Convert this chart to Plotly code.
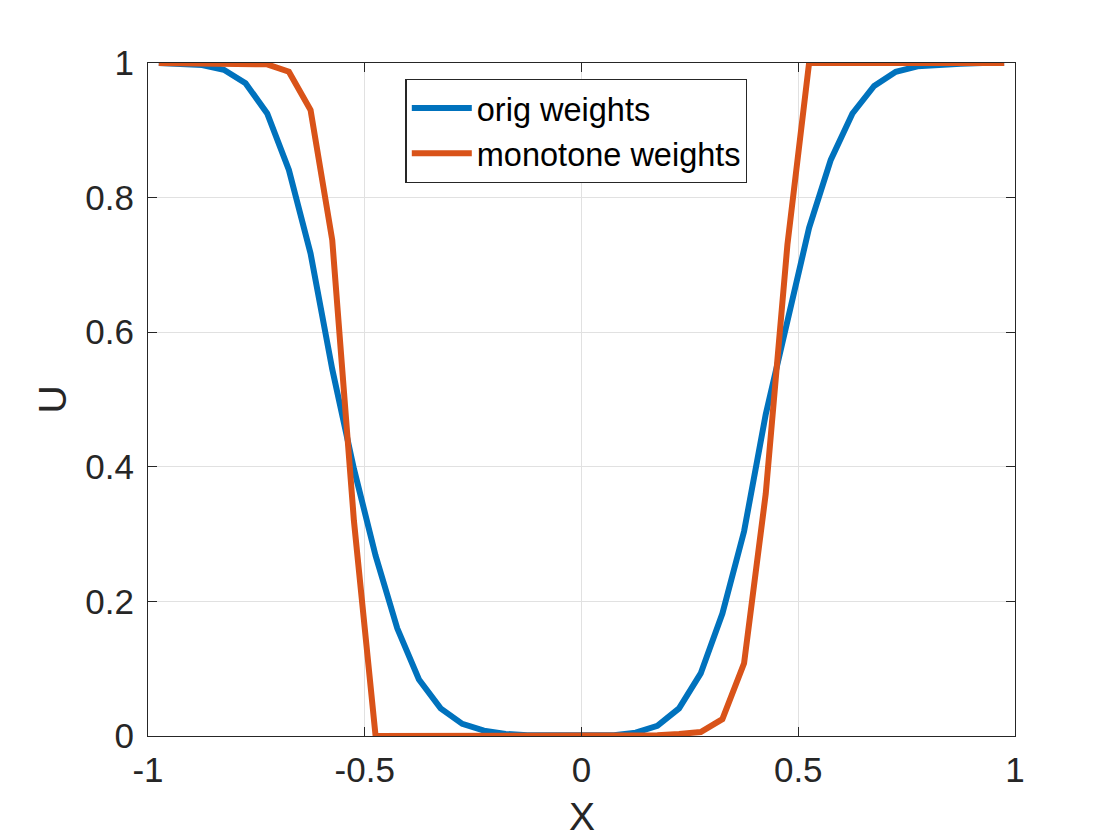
import plotly.graph_objects as go

# grid points (cell centres)
x_pts = [-0.975, -0.925, -0.875, -0.825, -0.775, -0.725, -0.675, -0.625, -0.575, -0.525,
         -0.475, -0.425, -0.375, -0.325, -0.275, -0.225, -0.175, -0.125, -0.075, -0.025,
         0.025, 0.075, 0.125, 0.175, 0.225, 0.275, 0.325, 0.375, 0.425, 0.475,
         0.525, 0.575, 0.625, 0.675, 0.725, 0.775, 0.825, 0.875, 0.925, 0.975]

u_orig = [1.000, 0.999, 0.997, 0.990, 0.970, 0.925, 0.841, 0.717, 0.545, 0.397,
          0.268, 0.160, 0.084, 0.041, 0.018, 0.008, 0.003, 0.001, 0.0005, 0.0002,
          0.0003, 0.001, 0.005, 0.015, 0.041, 0.093, 0.182, 0.304, 0.478, 0.620,
          0.755, 0.856, 0.925, 0.966, 0.987, 0.995, 0.998, 0.999, 1.000, 1.000]

u_mono = [1.000, 1.000, 1.000, 1.000, 1.000, 0.998, 0.987, 0.930, 0.737, 0.320,
          0.0, 0.0, 0.0, 0.0, 0.0, 0.0, 0.0, 0.0, 0.0, 0.0,
          0.0, 0.0, 0.0, 0.001, 0.003, 0.006, 0.025, 0.108, 0.360, 0.730,
          1.000, 1.000, 1.000, 1.000, 1.000, 1.000, 1.000, 1.000, 1.000, 1.000]

xtick_vals = [-1, -0.5, 0, 0.5, 1]
xtick_text = ["-1", "-0.5", "0", "0.5", "1"]
ytick_vals = [0, 0.2, 0.4, 0.6, 0.8, 1]
ytick_text = ["0", "0.2", "0.4", "0.6", "0.8", "1"]

ink = "#262626"
font = "Helvetica, Arial, Liberation Sans, sans-serif"

fig = go.Figure()
fig.add_trace(go.Scatter(x=x_pts, y=u_orig, mode="lines", name="orig weights",
                         line=dict(color="#0072BD", width=6)))
fig.add_trace(go.Scatter(x=x_pts, y=u_mono, mode="lines", name="monotone weights",
                         line=dict(color="#D95319", width=6)))

axis_style = dict(showline=True, linecolor=ink, linewidth=1.3, mirror="ticks",
                  ticks="inside", ticklen=9, tickcolor=ink, tickwidth=1.3,
                  showgrid=True, gridcolor="#e1e1e1", gridwidth=1, zeroline=False,
                  automargin=False,
                  tickfont=dict(size=35, color=ink, family=font))

fig.update_xaxes(range=[-1, 1], tickvals=xtick_vals, ticktext=xtick_text,
                 ticklabelstandoff=3, **axis_style)
fig.update_yaxes(range=[0, 1], tickvals=ytick_vals, ticktext=ytick_text,
                 ticklabelstandoff=6,
                 title=dict(text="U", font=dict(size=39, color=ink, family=font), standoff=6),
                 **axis_style)

# x label sits low, close to the bottom edge like the original
fig.add_annotation(text="X", xref="paper", yref="paper", x=0.5, y=-0.12,
                   xanchor="center", yanchor="middle", showarrow=False,
                   font=dict(size=39, color=ink, family=font))

# page body adds ~8px offset, so the figure is a little smaller than the window
fig.update_layout(
    width=1104, height=832,
    margin=dict(l=140, r=97, t=55, b=104),
    paper_bgcolor="white", plot_bgcolor="white",
    font=dict(family=font, color=ink),
    legend=dict(x=0.297, y=0.976, xanchor="left", yanchor="top",
                bgcolor="white", bordercolor=ink, borderwidth=1.3,
                font=dict(size=32.5, color="black", family=font),
                itemwidth=60, tracegroupgap=0),
)

fig.write_html("out.html")
